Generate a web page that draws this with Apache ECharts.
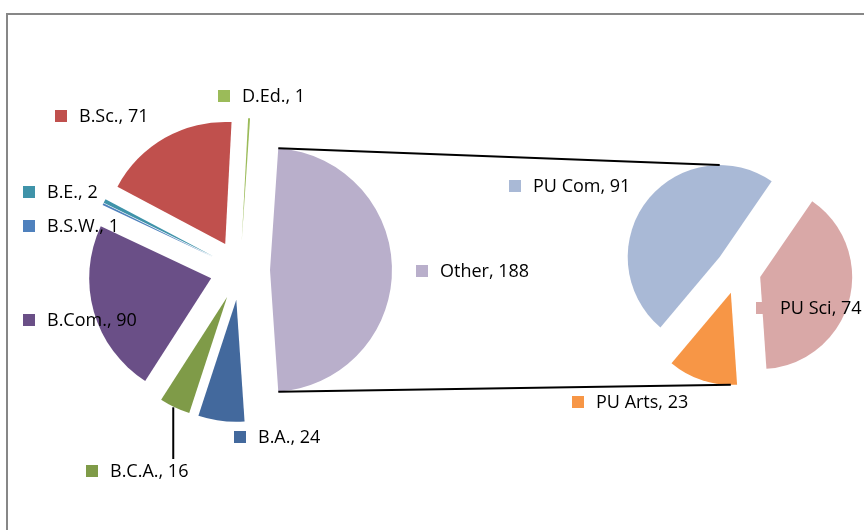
<!DOCTYPE html>
<html><head><meta charset="utf-8">
<script src="https://cdn.jsdelivr.net/npm/echarts@6/dist/echarts.min.js"></script>
<style>html,body{margin:0;padding:0;background:#fff}#c{width:864px;height:530px}</style>
</head><body><div id="c"></div>
<script>
// ---- data ----
const mainCategories = ['Other', 'B.A.', 'B.C.A.', 'B.Com.', 'B.S.W.', 'B.E.', 'B.Sc.', 'D.Ed.'];
const mainValues = [188, 24, 16, 90, 1, 2, 71, 1];
const secondaryCategories = ['PU Arts', 'PU Com', 'PU Sci'];
const secondaryValues = [23, 91, 74];

// ---- styles / layout ----
const mainColors = ['#B9AFCB', '#43699D', '#7F9B48', '#6A4F87', '#4F81BD', '#3F93A9', '#C0504D', '#9BBB59'];
const secondaryColors = ['#F79646', '#A9B9D6', '#D9A8A7'];
const MAIN = {cx: 240, cy: 270, r: 122, off: 30};
const SEC = {cx: 738, cy: 271, r: 92, off: 23};
const labelPos = {
  'Other': [416, 271], 'B.A.': [234, 437], 'B.C.A.': [86, 471], 'B.Com.': [23, 320],
  'B.S.W.': [23, 226], 'B.E.': [23, 192], 'B.Sc.': [55, 116], 'D.Ed.': [218, 96],
  'PU Arts': [572, 402], 'PU Com': [509, 186], 'PU Sci': [756, 308]
};
const FONT = '"Open Sans", sans-serif';
const FONT_SIZE = 18;

function total(a) { return a.reduce((s, v) => s + v, 0); }
const mainTotal = total(mainValues);
const otherHalf = mainValues[0] / mainTotal * 180; // half-angle of Other slice
const mainStart = otherHalf;       // ECharts degrees (CCW from 3 o'clock)
const secStart = -otherHalf;

// slice geometry in screen angles (clockwise from right, degrees)
function slices(values, startAngle, L) {
  const t = total(values);
  let a = -startAngle;
  return values.map(v => {
    const span = v / t * 360;
    const s = a, e = a + span, m = a + span / 2;
    a = e;
    const rad = m * Math.PI / 180;
    return {s, e, m, ox: L.cx + L.off * Math.cos(rad), oy: L.cy + L.off * Math.sin(rad)};
  });
}
const mainSl = slices(mainValues, mainStart, MAIN);
const secSl = slices(secondaryValues, secStart, SEC);
function pt(sl, L, deg) {
  const r = deg * Math.PI / 180;
  return [sl.ox + L.r * Math.cos(r), sl.oy + L.r * Math.sin(r)];
}
function containing(sls, deg) {
  const norm = d => ((d % 360) + 360) % 360;
  return sls.find(sl => {
    const s = norm(sl.s), span = sl.e - sl.s;
    return norm(deg - s) <= span;
  });
}
const other = mainSl[0];
const topA = pt(other, MAIN, other.s);
const botA = pt(other, MAIN, other.e);
const secTop = containing(secSl, 270);
const secBot = containing(secSl, 90);
const topB = [secTop.ox, secTop.oy - SEC.r];
const botB = [secBot.ox, secBot.oy + SEC.r];
// B.C.A. leader line
const bcaIdx = mainCategories.indexOf('B.C.A.');
const bcaP = pt(mainSl[bcaIdx], MAIN, mainSl[bcaIdx].m);
const bcaEnd = [bcaP[0], labelPos['B.C.A.'][1] - 12];

function makeData(cats, vals, colors) {
  return cats.map((c, i) => ({
    name: c, value: vals[i], selected: true,
    itemStyle: {color: colors[i]}
  }));
}
// data labels (legend-key square + "name, value")
function labelGraphics(cats, vals, colors) {
  const out = [];
  cats.forEach((c, i) => {
    const p = labelPos[c];
    out.push({type: 'rect', shape: {x: p[0], y: p[1] - 6, width: 12, height: 12},
      style: {fill: colors[i]}, z: 200, silent: true});
    out.push({type: 'text', x: p[0] + 24, y: p[1] + 1,
      style: {text: c + ', ' + vals[i], fill: '#000', font: FONT_SIZE + 'px ' + FONT,
        textAlign: 'left', textVerticalAlign: 'middle'}, z: 201, silent: true});
  });
  return out;
}
const baseSeries = {
  type: 'pie', selectedMode: 'multiple', clockwise: true, avoidLabelOverlap: false,
  animation: false, silent: true, emphasis: {disabled: true},
  labelLine: {show: false},
  label: {show: false},
  itemStyle: {borderWidth: 0}
};

const chart = echarts.init(document.getElementById('c'), null, {renderer: 'canvas'});
chart.setOption({
  backgroundColor: '#fff',
  animation: false,
  series: [
    Object.assign({}, baseSeries, {
      center: [MAIN.cx, MAIN.cy], radius: MAIN.r, startAngle: mainStart,
      selectedOffset: MAIN.off,
      data: makeData(mainCategories, mainValues, mainColors)
    }),
    Object.assign({}, baseSeries, {
      center: [SEC.cx, SEC.cy], radius: SEC.r, startAngle: secStart,
      selectedOffset: SEC.off,
      data: makeData(secondaryCategories, secondaryValues, secondaryColors)
    })
  ],
  graphic: [
    {type: 'rect', shape: {x: 7, y: 14, width: 900, height: 600}, style: {fill: null, stroke: '#878787', lineWidth: 2}, silent: true, z: 0},
    {type: 'line', shape: {x1: topA[0], y1: topA[1], x2: topB[0], y2: topB[1]}, style: {stroke: '#000', lineWidth: 2}, z: 100},
    {type: 'line', shape: {x1: botA[0], y1: botA[1], x2: botB[0], y2: botB[1]}, style: {stroke: '#000', lineWidth: 2}, z: 100},
    {type: 'line', shape: {x1: bcaP[0] - 1.5, y1: bcaP[1], x2: bcaEnd[0] - 1.5, y2: bcaEnd[1]}, style: {stroke: '#000', lineWidth: 2}, z: 100}
  ].concat(labelGraphics(mainCategories, mainValues, mainColors))
   .concat(labelGraphics(secondaryCategories, secondaryValues, secondaryColors))
});
</script></body></html>
